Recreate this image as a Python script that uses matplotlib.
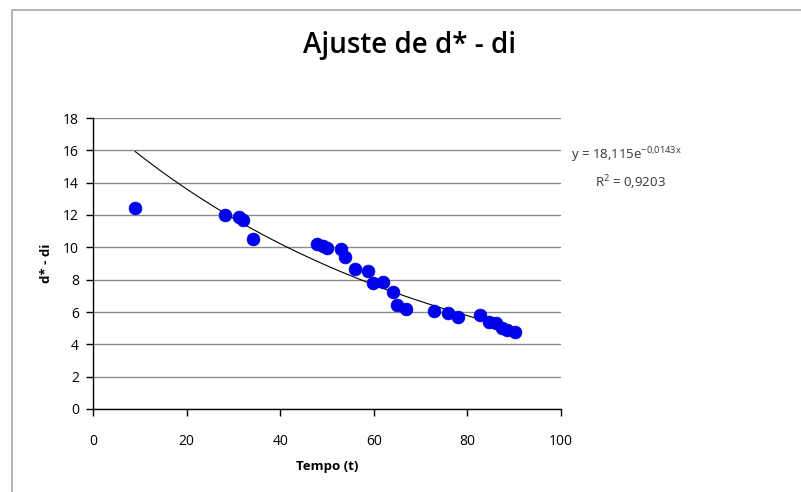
import numpy as np
import matplotlib
matplotlib.use("Agg")
import matplotlib.pyplot as plt
from matplotlib.patches import Rectangle

plt.rcParams['font.family'] = ['Open Sans', 'DejaVu Sans']

# measured points
tempo = [9.0, 28.2, 31.2, 32.1, 34.1, 47.8, 49.2, 50.0, 52.9, 53.8, 56.0,
         58.8, 59.8, 62.0, 64.0, 64.9, 66.9, 72.9, 75.9, 78.0, 82.7, 84.7,
         86.2, 87.3, 88.4, 90.2]
d_di = [12.43, 12.0, 11.9, 11.7, 10.5, 10.2, 10.1, 9.96, 9.9, 9.4, 8.66,
        8.55, 7.81, 7.87, 7.21, 6.43, 6.18, 6.08, 5.91, 5.71, 5.81, 5.4,
        5.3, 4.99, 4.89, 4.78]

# exponential trendline y = a * exp(b x)
coef_a = 18.115
coef_b = -0.0143
r2 = 0.9203

fig = plt.figure(figsize=(8.01, 4.92), dpi=100)
fig.patches.append(Rectangle((12 / 801, -0.1), 1.2, (492 - 10) / 492 + 0.1,
                             transform=fig.transFigure, fill=False,
                             edgecolor='#a8a8a8', linewidth=1.2))

ax = fig.add_axes([93 / 801, (492 - 409) / 492, (561 - 93) / 801, (409 - 118) / 492])

ax.scatter(tempo, d_di, s=85, color='#0000f0', edgecolors='#0000d0',
           linewidths=0.5, zorder=3)

xt = np.linspace(min(tempo), max(tempo), 200)
ax.plot(xt, coef_a * np.exp(coef_b * xt), color='black', linewidth=0.8, zorder=2)

ax.set_xlim(0, 100)
ax.set_ylim(0, 18)
ax.set_xticks(range(0, 101, 20))
ax.set_yticks(range(0, 19, 2))
ax.yaxis.grid(True, color='#8a8a8a', linewidth=1.0)
ax.set_axisbelow(True)
for s in ['top', 'right']:
    ax.spines[s].set_visible(False)
for s in ['left', 'bottom']:
    ax.spines[s].set_color('black')
    ax.spines[s].set_linewidth(1.0)
ax.tick_params(axis='both', length=5, width=1.0, labelsize=10, colors='black')
ax.tick_params(axis='x', pad=13)
ax.tick_params(axis='y', pad=5)

ax.set_xlabel('Tempo (t)', fontsize=9.5, fontweight='bold', labelpad=8)
ax.set_ylabel('d* - di', fontsize=9.5, fontweight='bold', labelpad=7)

fig.text(410 / 801, 1 - 45 / 492, 'Ajuste de d* - di', ha='center', va='center',
         fontsize=20, fontweight='semibold')

fig.text(571 / 801, 1 - 155 / 492,
         r'y = 18,115e$^{\mathregular{-0{,}0143x}}$', ha='left', va='center',
         fontsize=9.5, color='#333333')
fig.text(595 / 801, 1 - 183 / 492,
         r'R$^{\mathregular{2}}$ = ' + f'{r2}'.replace('.', ','),
         ha='left', va='center', fontsize=9.5, color='#333333')

fig.savefig('out.png', dpi=100)
